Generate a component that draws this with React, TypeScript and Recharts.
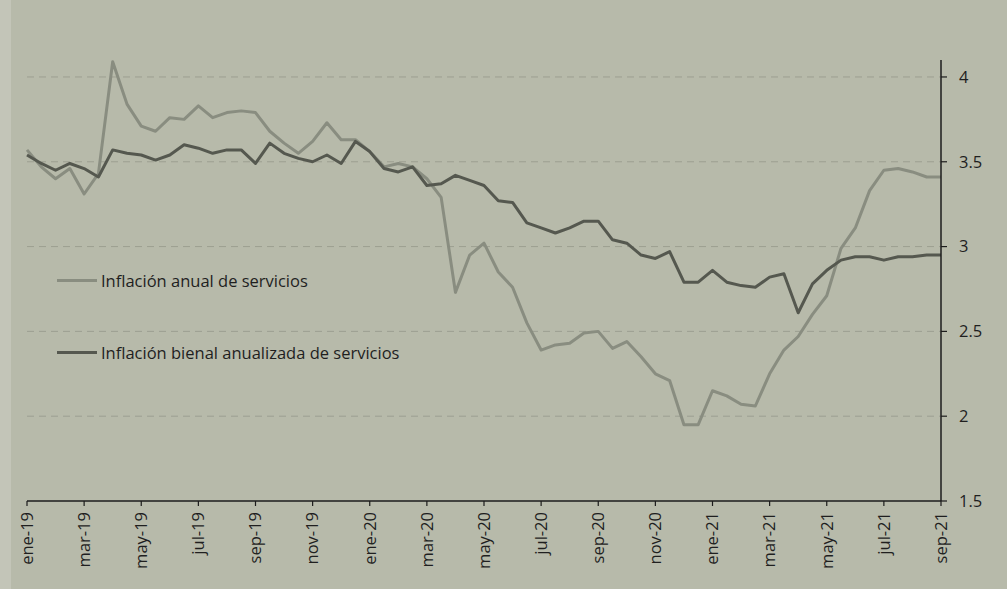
import React from "react";
import { LineChart, Line, XAxis, YAxis, CartesianGrid, Legend } from "recharts";

// tick labels every two months (data is biweekly, 2 points per month)
const tickLabels = [
  "ene-19", "mar-19", "may-19", "jul-19", "sep-19", "nov-19",
  "ene-20", "mar-20", "may-20", "jul-20", "sep-20", "nov-20",
  "ene-21", "mar-21", "may-21", "jul-21", "sep-21",
];

// Inflación anual de servicios
const anual = [
  3.57, 3.47, 3.40, 3.46, 3.31, 3.43, 4.09, 3.84, 3.71, 3.68, 3.76, 3.75, 3.83,
  3.76, 3.79, 3.80, 3.79, 3.68, 3.61, 3.55, 3.62, 3.73, 3.63, 3.63, 3.56, 3.47,
  3.49, 3.47, 3.40, 3.29, 2.73, 2.95, 3.02, 2.85, 2.76, 2.55, 2.39, 2.42, 2.43,
  2.49, 2.50, 2.40, 2.44, 2.35, 2.25, 2.21, 1.95, 1.95, 2.15, 2.12, 2.07, 2.06,
  2.25, 2.39, 2.47, 2.60, 2.71, 2.99, 3.11, 3.33, 3.45, 3.46, 3.44, 3.41, 3.41,
];

// Inflación bienal anualizada de servicios
const bienal = [
  3.54, 3.49, 3.45, 3.49, 3.46, 3.41, 3.57, 3.55, 3.54, 3.51, 3.54, 3.60, 3.58,
  3.55, 3.57, 3.57, 3.49, 3.61, 3.55, 3.52, 3.50, 3.54, 3.49, 3.62, 3.56, 3.46,
  3.44, 3.47, 3.36, 3.37, 3.42, 3.39, 3.36, 3.27, 3.26, 3.14, 3.11, 3.08, 3.11,
  3.15, 3.15, 3.04, 3.02, 2.95, 2.93, 2.97, 2.79, 2.79, 2.86, 2.79, 2.77, 2.76,
  2.82, 2.84, 2.61, 2.78, 2.86, 2.92, 2.94, 2.94, 2.92, 2.94, 2.94, 2.95, 2.95,
];

const yTicks = [1.5, 2, 2.5, 3, 3.5, 4];
const gridValues = [2, 2.5, 3, 3.5, 4];

const data = anual.map((v, i) => ({ i, anual: v, bienal: bienal[i] }));
const xTicks = tickLabels.map((_, k) => k * 4);

const FONT = "'Open Sans', 'Noto Sans', sans-serif";
const TEXT = "#1f1f1f";
const AXIS = "#1c1c1c";
const FS = 16.5;

const XTick = ({ x, y, payload }: any) => (
  <g transform={`translate(${x},${y})`}>
    <text
      transform="rotate(-90)"
      textAnchor="end"
      dy="0.35em"
      fontSize={FS}
      fill={TEXT}
      fontFamily={FONT}
    >
      {tickLabels[Math.round(payload.value / 4)]}
    </text>
  </g>
);

const LegendBox = ({ payload }: any) => (
  <div style={{ fontFamily: FONT, fontSize: FS, color: TEXT }}>
    {(payload || []).map((p: any, k: number) => (
      <div
        key={k}
        style={{
          display: "flex",
          alignItems: "center",
          height: 20,
          marginBottom: 52,
          whiteSpace: "nowrap",
        }}
      >
        <span style={{ display: "inline-block", width: 40, height: 3, background: p.color, marginRight: 4 }} />
        <span>{p.value}</span>
      </div>
    ))}
  </div>
);

export default function App() {
  return (
    <div style={{ position: "absolute", left: 0, top: 0, width: 1007, height: 589, background: "#b7baaa" }}>
      <div style={{ position: "absolute", left: 0, top: 0, width: 11, height: 589, background: "#c3c5b8" }} />
      <LineChart
        width={1007}
        height={589}
        data={data}
        margin={{ top: 60, right: 5, bottom: 8, left: 27 }}
        style={{ fontFamily: FONT }}
      >
        <CartesianGrid
          vertical={false}
          horizontalValues={gridValues}
          stroke="#9c9f91"
          strokeDasharray="7 5"
        />
        <XAxis
          dataKey="i"
          type="number"
          domain={[0, 64]}
          ticks={xTicks}
          interval={0}
          height={80}
          tickSize={5}
          tickMargin={6}
          axisLine={{ stroke: AXIS, strokeWidth: 1.5 }}
          tickLine={{ stroke: AXIS, strokeWidth: 1.2 }}
          tick={XTick}
        />
        <YAxis
          orientation="right"
          type="number"
          domain={[1.5, 4.1]}
          ticks={yTicks}
          allowDataOverflow
          width={61}
          tickSize={6}
          tickMargin={12}
          axisLine={{ stroke: AXIS, strokeWidth: 1.5 }}
          tickLine={{ stroke: AXIS, strokeWidth: 1.2 }}
          tick={{ fontSize: FS, fill: TEXT, fontFamily: FONT, textAnchor: "start" }}
        />
        <Legend
          layout="horizontal"
          verticalAlign="middle"
          align="center"
          content={LegendBox}
          wrapperStyle={{ left: 57, top: 270, width: 420 }}
        />
        <Line
          name="Inflación anual de servicios"
          dataKey="anual"
          stroke="#898d80"
          strokeWidth={3}
          dot={false}
          strokeLinejoin="round"
          isAnimationActive={false}
        />
        <Line
          name="Inflación bienal anualizada de servicios"
          dataKey="bienal"
          stroke="#55584f"
          strokeWidth={3}
          dot={false}
          strokeLinejoin="round"
          isAnimationActive={false}
        />
      </LineChart>
    </div>
  );
}
